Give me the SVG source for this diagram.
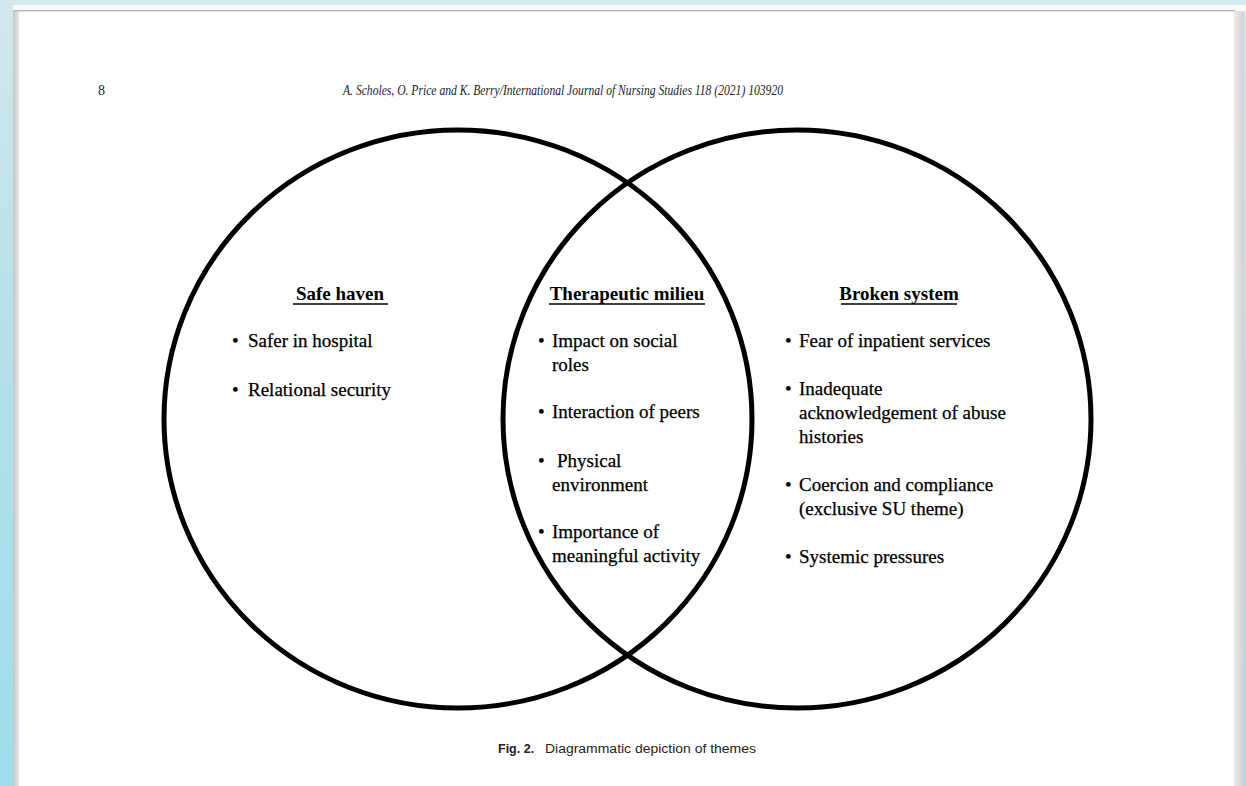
<svg xmlns="http://www.w3.org/2000/svg" width="1246" height="786" viewBox="0 0 1246 786">
<defs>
<linearGradient id="bg" x1="0" y1="0" x2="0" y2="1">
<stop offset="0" stop-color="#d2e8ec"/>
<stop offset="0.5" stop-color="#b2e0ea"/>
<stop offset="1" stop-color="#9cdeea"/>
</linearGradient>
<linearGradient id="shadowL" x1="0" y1="0" x2="1" y2="0">
<stop offset="0" stop-color="#c4c4c4"/>
<stop offset="1" stop-color="#e8e8e8"/>
</linearGradient>
<linearGradient id="shadowR" x1="0" y1="0" x2="1" y2="0">
<stop offset="0" stop-color="#ececec"/>
<stop offset="1" stop-color="#d0d0d0"/>
</linearGradient>
</defs>
<style>
.circ{fill:none;stroke:#000;stroke-width:5}
.t{font-family:"Liberation Serif","Times New Roman",serif;font-size:19px;fill:#000;stroke:#000;stroke-width:0.25}
.h{font-family:"Liberation Serif","Times New Roman",serif;font-size:19px;font-weight:bold;fill:#000;text-anchor:middle}
.ul{stroke:#000;stroke-width:1.6}
.hdr{font-family:"Liberation Serif","Times New Roman",serif;font-size:14px;font-style:italic;fill:#222}
.cap{font-family:"Liberation Sans",Arial,sans-serif;font-size:12.5px;fill:#222}
</style>
<rect x="0" y="0" width="1246" height="786" fill="url(#bg)"/>
<rect x="13" y="5" width="1233" height="6" fill="#fafcfc"/>
<rect x="13" y="10" width="1222" height="1.5" fill="#b4b4b4"/>
<rect x="13" y="11.5" width="6" height="775" fill="url(#shadowL)"/>
<rect x="1234" y="11.5" width="10" height="775" fill="url(#shadowR)"/>
<rect x="19" y="11.5" width="1215" height="775" fill="#fff"/>
<g id="header">
<text x="98" y="95" class="hdr" style="font-style:normal">8</text>
<text x="343" y="95" class="hdr" textLength="440" lengthAdjust="spacingAndGlyphs">A. Scholes, O. Price and K. Berry/International Journal of Nursing Studies 118 (2021) 103920</text>
</g>
<g id="safe-haven">
<ellipse class="circ" cx="458" cy="419" rx="294" ry="289"/>
<text x="340" y="300" class="h">Safe haven</text>
<line class="ul" x1="293" y1="304" x2="388" y2="304"/>
<text x="232" y="347" class="t">•</text>
<text x="248" y="347" class="t">Safer in hospital</text>
<text x="232" y="396" class="t">•</text>
<text x="248" y="396" class="t">Relational security</text>
</g>
<g id="broken-system">
<ellipse class="circ" cx="797" cy="419" rx="294" ry="289"/>
<text x="899" y="300" class="h">Broken system</text>
<line class="ul" x1="841" y1="304" x2="957" y2="304"/>
<text x="785" y="347" class="t">•</text>
<text x="799" y="347" class="t">Fear of inpatient services</text>
<text x="785" y="395" class="t">•</text>
<text x="799" y="395" class="t">Inadequate</text>
<text x="799" y="419" class="t">acknowledgement of abuse</text>
<text x="799" y="443" class="t">histories</text>
<text x="785" y="491" class="t">•</text>
<text x="799" y="491" class="t">Coercion and compliance</text>
<text x="799" y="515" class="t">(exclusive SU theme)</text>
<text x="785" y="563" class="t">•</text>
<text x="799" y="563" class="t">Systemic pressures</text>
</g>
<g id="therapeutic-milieu">
<text x="627" y="300" class="h">Therapeutic milieu</text>
<line class="ul" x1="549" y1="304" x2="705" y2="304"/>
<text x="538" y="347" class="t">•</text>
<text x="552" y="347" class="t">Impact on social</text>
<text x="552" y="371" class="t">roles</text>
<text x="538" y="418" class="t">•</text>
<text x="552" y="418" class="t">Interaction of peers</text>
<text x="538" y="467" class="t">•</text>
<text x="557" y="467" class="t">Physical</text>
<text x="552" y="491" class="t">environment</text>
<text x="538" y="538" class="t">•</text>
<text x="552" y="538" class="t">Importance of</text>
<text x="552" y="562" class="t">meaningful activity</text>
</g>
<g id="caption">
<text x="498" y="753" class="cap" font-weight="bold">Fig. 2.</text>
<text x="545" y="753" class="cap" textLength="211" lengthAdjust="spacingAndGlyphs">Diagrammatic depiction of themes</text>
</g>
</svg>
